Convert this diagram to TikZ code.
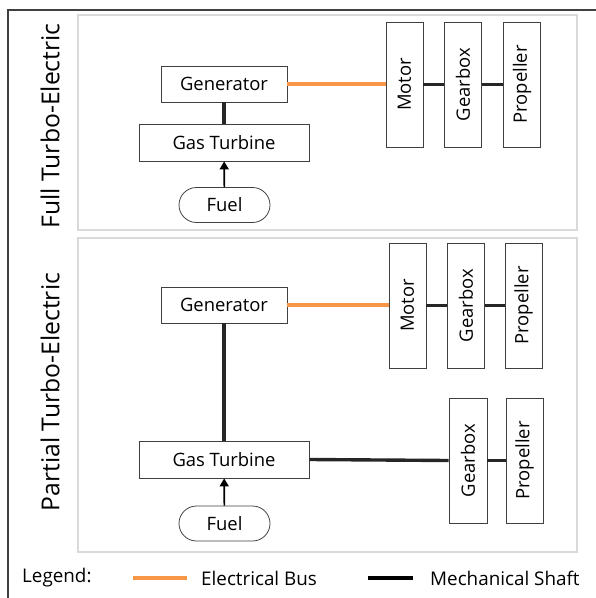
\documentclass[tikz,border=0pt]{standalone}
\usepackage{fontspec}
\setmainfont{Open Sans}
\usetikzlibrary{arrows.meta,shapes.misc}
\definecolor{busor}{HTML}{F79646}
\definecolor{shaftk}{HTML}{262626}
\definecolor{panelg}{HTML}{D9D9D9}
\definecolor{boxk}{HTML}{404040}
\tikzset{
  box/.style={draw=boxk,line width=0.8pt,rectangle,inner sep=0pt,font=\fontsize{18.5}{21}\selectfont},
  hbox/.style={box,minimum width=126bp,minimum height=36bp},
  tbox/.style={box,minimum width=170bp,minimum height=37bp},
  vbox/.style={box,minimum width=37bp,minimum height=125bp},
  fuelbox/.style={draw=boxk,line width=0.8pt,rounded rectangle,minimum width=91bp,minimum height=35bp,inner sep=0pt,font=\fontsize{18.5}{21}\selectfont},
  panel/.style={draw=panelg,line width=1.5pt},
  bus/.style={draw=busor,line width=3.5pt},
  shaft/.style={draw=shaftk,line width=3.4pt},
  feed/.style={draw=black,line width=1.7pt,-{Triangle[length=8bp,width=9bp]}},
  side/.style={rotate=90,font=\fontsize{24.8}{28}\selectfont,inner sep=0pt},
  leg/.style={font=\fontsize{18.9}{22}\selectfont,anchor=west,inner sep=0pt}
}
\begin{document}
\begin{tikzpicture}[x=1bp,y=-1bp]
\useasboundingbox (0,0) rectangle (596,598);
\draw[boxk,line width=1.5pt] (8,600) -- (8,10) -- (600,10);
\draw[panel] (78,15) rectangle (577,230);
\draw[panel] (78,238) rectangle (577,552);
% side labels
\node[side] (lab1) at (50,126) {Full Turbo-Electric};
\node[side] (lab2) at (50,392) {Partial Turbo-Electric};
% top panel
\node[hbox] (gen1) at (224,84) {Generator};
\node[tbox] (gt1) at (224,142.5) {Gas Turbine};
\node[fuelbox] (fuel1) at (224.5,205) {Fuel};
\node[vbox] (mot1) at (404.5,84.5) {\rotatebox{90}{Motor}};
\node[vbox] (gb1) at (463,84.5) {\rotatebox{90}{Gearbox}};
\node[vbox] (pr1) at (522,84.5) {\rotatebox{90}{Propeller}};
\draw[shaft] (gen1) -- (gt1);
\draw[feed] (fuel1) -- (gt1);
\draw[bus] (gen1.east) -- (mot1.west |- gen1.east);
\draw[shaft] (mot1) -- (gb1);
\draw[shaft] (gb1) -- (pr1);
% bottom panel
\node[hbox] (gen2) at (224,305) {Generator};
\node[tbox] (gt2) at (224,459.5) {Gas Turbine};
\node[fuelbox] (fuel2) at (224.5,523.5) {Fuel};
\node[vbox] (mot2) at (407.5,305.5) {\rotatebox{90}{Motor}};
\node[vbox] (gb2) at (466,305.5) {\rotatebox{90}{Gearbox}};
\node[vbox] (pr2) at (523.5,305.5) {\rotatebox{90}{Propeller}};
\node[vbox,minimum width=38bp] (gb3) at (468,460.5) {\rotatebox{90}{Gearbox}};
\node[vbox] (pr3) at (524.5,460.5) {\rotatebox{90}{Propeller}};
\draw[shaft] (gen2) -- (gt2);
\draw[feed] (fuel2) -- (gt2);
\draw[bus] (gen2.east) -- (mot2.west |- gen2.east);
\draw[shaft] (mot2) -- (gb2);
\draw[shaft] (gb2) -- (pr2);
\draw[shaft] (gt2.east) -- (gb3.west);
\draw[shaft] (gb3) -- (pr3);
% legend
\node[leg] (legt) at (22,578) {Legend:};
\coordinate (b1) at (133,578);
\coordinate (b2) at (187,578);
\draw[bus,line width=3.5pt] (b1) -- (b2);
\node[leg] (legb) at (201,578) {Electrical Bus};
\coordinate (s1) at (368,578);
\coordinate (s2) at (413,578);
\draw[shaft,draw=black,line width=3.5pt] (s1) -- (s2);
\node[leg] (legs) at (430,578) {Mechanical Shaft};
\end{tikzpicture}
\end{document}
